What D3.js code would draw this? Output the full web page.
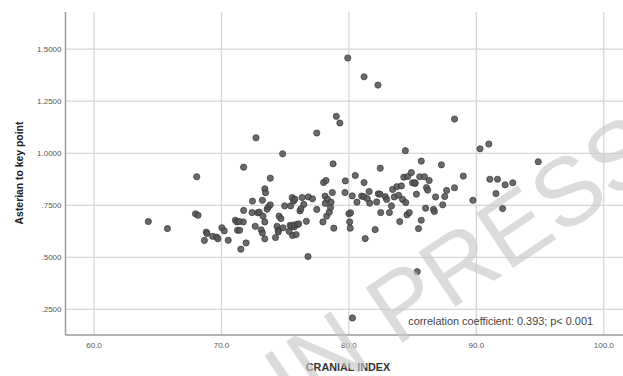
<!DOCTYPE html>
<html>
<head>
<meta charset="utf-8">
<script src="https://cdn.jsdelivr.net/npm/d3@7"></script>
<style>
  body { margin: 0; background: #fff; }
  svg { display: block; font-family: "Liberation Sans", Arial, sans-serif; }
</style>
</head>
<body>
<svg id="scatter" width="623" height="376"></svg>
<script>
// cranial index (x) and asterian-to-key-point distance (y)
const cranialIndex = [
  64.3, 65.8, 68.1, 68.0, 68.2, 68.7, 68.85, 68.9, 69.35, 69.66, 69.76, 70.07, 70.26, 70.57,
  71.13, 71.25, 71.3, 71.47, 71.56, 71.78, 71.78, 71.75, 71.97, 71.43, 72.47, 72.44, 72.75, 72.69,
  72.88, 73.0, 73.16, 73.25, 73.3, 73.25, 73.44, 73.5, 73.44, 73.44, 73.62, 73.72, 73.87, 73.87,
  74.28, 74.4, 74.5, 74.5, 74.56, 74.7, 74.84, 74.87, 75.0, 75.34, 75.43, 75.46, 75.53, 75.59,
  75.62, 75.7, 75.75, 75.77, 75.8, 75.9, 76.0, 76.1, 76.2, 76.27, 76.37, 76.5, 76.7, 76.83,
  76.86, 77.18, 77.52, 77.52, 78.0, 78.05, 78.17, 78.18, 78.24, 78.3, 78.36, 78.5, 78.6, 78.64,
  78.74, 78.8, 78.86, 79.05, 79.33, 79.73, 79.76, 79.95, 80.04, 80.1, 80.14, 80.17, 80.3, 80.32,
  80.54, 80.67, 81.04, 81.2, 81.23, 81.23, 81.32, 81.48, 81.63, 81.67, 82.1, 82.22, 82.32, 82.35,
  82.48, 82.5, 82.54, 82.9, 83.0, 83.22, 83.38, 83.47, 83.6, 83.8, 83.94, 84.03, 84.16, 84.25,
  84.35, 84.47, 84.5, 84.6, 84.66, 84.78, 84.94, 85.03, 85.22, 85.24, 85.34, 85.4, 85.5, 85.6,
  85.72, 85.72, 85.97, 86.06, 86.13, 86.22, 86.34, 86.68, 86.75, 86.84, 87.3, 87.4, 87.56, 87.71,
  88.33, 88.33, 89.02, 89.77, 90.33, 91.02, 91.1, 91.58, 91.7, 92.1, 92.3, 92.9, 94.9
];
const asterionKeyPoint = [
  0.670, 0.636, 0.885, 0.707, 0.700, 0.579, 0.619, 0.612, 0.599, 0.595, 0.587, 0.640, 0.625, 0.580,
  0.676, 0.668, 0.628, 0.628, 0.537, 0.931, 0.723, 0.668, 0.567, 0.670, 0.768, 0.713, 1.072, 0.647,
  0.712, 0.715, 0.630, 0.772, 0.696, 0.615, 0.827, 0.808, 0.668, 0.587, 0.729, 0.740, 0.878, 0.750,
  0.593, 0.647, 0.628, 0.620, 0.696, 0.684, 0.995, 0.640, 0.745, 0.623, 0.652, 0.745, 0.647, 0.785,
  0.603, 0.768, 0.644, 0.654, 0.777, 0.607, 0.655, 0.659, 0.721, 0.731, 0.785, 0.752, 0.671, 0.502,
  0.788, 0.779, 1.095, 0.728, 0.668, 0.857, 0.792, 0.757, 0.867, 0.696, 0.777, 0.715, 0.737, 0.763,
  0.809, 0.947, 0.638, 1.175, 1.143, 0.809, 0.865, 1.455, 0.707, 0.668, 0.638, 0.712, 0.793, 0.207,
  0.891, 0.763, 0.792, 0.789, 0.857, 1.365, 0.588, 0.780, 0.814, 0.758, 0.631, 0.764, 1.325, 0.803,
  0.801, 0.926, 0.713, 0.789, 0.776, 0.713, 0.745, 0.824, 0.788, 0.837, 0.796, 0.670, 0.841, 0.776,
  0.883, 1.010, 0.761, 0.702, 0.886, 0.713, 0.905, 0.856, 0.856, 0.853, 0.801, 0.429, 0.636, 0.885,
  0.960, 0.676, 0.885, 0.734, 0.833, 0.821, 0.867, 0.728, 0.718, 0.788, 0.942, 0.750, 0.790, 0.819,
  0.832, 1.162, 0.888, 0.772, 1.019, 1.042, 0.873, 0.804, 0.873, 0.732, 0.846, 0.856, 0.957
];

const xTicks = [60, 70, 80, 90, 100];
const xTickLabels = ["60.0", "70.0", "80.0", "90.0", "100.0"];
const yTicks = [0.25, 0.5, 0.75, 1.0, 1.25, 1.5];
const yTickLabels = [".2500", ".5000", ".7500", "1.0000", "1.2500", "1.5000"];

const points = cranialIndex.map((x, i) => ({ x: x, y: asterionKeyPoint[i] }));

// plot box
const plotLeft = 65.5, plotRight = 623, plotTop = 12, plotBottom = 335;

const svg = d3.select("#scatter");

const xScale = d3.scaleLinear().domain([57.8, 101.55]).range([plotLeft, plotRight]);
const yScale = d3.scaleLinear().domain([0.125, 1.676]).range([plotBottom, plotTop]);

// x gridlines + labels
svg.append("g")
  .attr("class", "xaxis")
  .attr("transform", "translate(0," + plotBottom + ")")
  .call(d3.axisBottom(xScale)
    .tickValues(xTicks)
    .tickFormat((d, i) => xTickLabels[i])
    .tickSizeInner(-(plotBottom - plotTop))
    .tickSizeOuter(0)
    .tickPadding(7));

// y gridlines + labels
svg.append("g")
  .attr("class", "yaxis")
  .attr("transform", "translate(" + plotLeft + ",0)")
  .call(d3.axisLeft(yScale)
    .tickValues(yTicks)
    .tickFormat((d, i) => yTickLabels[i])
    .tickSizeInner(-(plotRight - plotLeft))
    .tickSizeOuter(0)
    .tickPadding(4));

svg.selectAll(".tick line").attr("stroke", "#d6d6d6").attr("stroke-width", 1.3);
svg.selectAll(".tick text")
  .attr("fill", "#555")
  .style("font-size", "8px");
svg.selectAll(".domain").remove();

// axis lines on top of the grid
svg.append("line")
  .attr("x1", plotLeft).attr("x2", plotLeft).attr("y1", plotTop).attr("y2", plotBottom)
  .attr("stroke", "#9a9a9a").attr("stroke-width", 1.5);
svg.append("line")
  .attr("x1", plotLeft).attr("x2", plotRight).attr("y1", plotBottom).attr("y2", plotBottom)
  .attr("stroke", "#9a9a9a").attr("stroke-width", 1.5);

// dots
svg.append("g")
  .attr("class", "dots")
  .selectAll("circle")
  .data(points)
  .join("circle")
    .attr("cx", d => xScale(d.x))
    .attr("cy", d => yScale(d.y))
    .attr("r", 3.1)
    .attr("fill", "#555")
    .attr("fill-opacity", 0.88)
    .attr("stroke", "#333")
    .attr("stroke-width", 0.7);

// titles
svg.append("text")
  .attr("x", 348).attr("y", 371)
  .attr("text-anchor", "middle")
  .attr("fill", "#333")
  .style("font-size", "10.8px")
  .style("font-weight", "bold")
  .text("CRANIAL INDEX");

svg.append("text")
  .attr("transform", "translate(23,173) rotate(-90)")
  .attr("text-anchor", "middle")
  .attr("fill", "#222")
  .style("font-size", "10.4px")
  .style("font-weight", "bold")
  .text("Asterian to key point");

svg.append("text")
  .attr("x", 593).attr("y", 325)
  .attr("text-anchor", "end")
  .attr("fill", "#444")
  .style("font-size", "10.9px")
  .text("correlation coefficient: 0.393; p< 0.001");

// journal watermark, anchored on the start of "PRESS"
const wm = svg.append("text")
  .attr("transform", "translate(396,347) rotate(-34)")
  .attr("fill", "#c8c8c8")
  .attr("fill-opacity", 0.65)
  .style("font-size", "96px")
  .text("ARTICLE IN PRESS");
wm.attr("x", -wm.node().getSubStringLength(0, 11));
</script>
</body>
</html>
